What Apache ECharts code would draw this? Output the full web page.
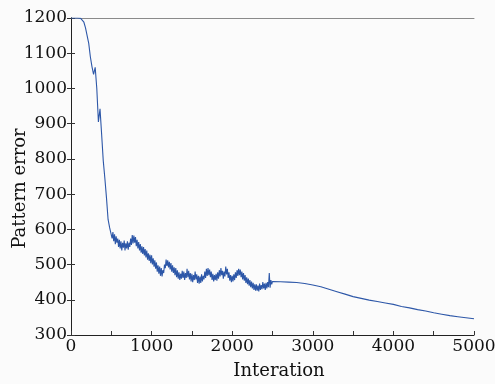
<!DOCTYPE html>
<html>
<head>
<meta charset="utf-8">
<script src="https://cdn.jsdelivr.net/npm/echarts@6/dist/echarts.min.js"></script>
<style>
  html, body { margin: 0; padding: 0; background: #fbfbfb; }
  #main { width: 495px; height: 384px; }
</style>
</head>
<body>
<div id="main"></div>
<script>
// steep descent, a reading every 20 iterations from 0 to 480
var descentStart = 0;
var descentStep = 20;
var descentError = [
  1200, 1200, 1200, 1200, 1200, 1200, 1199, 1196, 1188, 1172,
  1150, 1128, 1090, 1062, 1040, 1060, 1000, 905, 942, 870,
  795, 745, 690, 628, 604
];

// noisy plateau, a reading every 10 iterations from 500 to 2500
var plateauStart = 500;
var plateauStep = 10;
var plateauError = [
  600, 574, 592, 566, 586, 558, 580, 562, 574, 550,
  570, 546, 566, 540, 562, 548, 568, 540, 560, 546,
  566, 542, 562, 550, 574, 556, 584, 560, 582, 562,
  578, 552, 570, 546, 564, 540, 558, 534, 552, 530,
  550, 526, 544, 520, 540, 514, 532, 510, 528, 504,
  526, 500, 518, 494, 512, 488, 506, 480, 498, 474,
  494, 468, 490, 466, 484, 476, 500, 490, 514, 496,
  512, 492, 508, 486, 504, 480, 498, 476, 492, 470,
  490, 464, 484, 460, 478, 456, 474, 460, 482, 462,
  480, 456, 476, 462, 488, 464, 482, 458, 476, 452,
  474, 450, 470, 456, 480, 458, 472, 448, 468, 446,
  466, 448, 472, 452, 468, 458, 480, 462, 488, 468,
  490, 470, 486, 464, 480, 456, 474, 452, 470, 456,
  474, 454, 478, 460, 484, 466, 490, 470, 482, 460,
  480, 466, 494, 472, 488, 462, 478, 454, 470, 450,
  468, 452, 472, 456, 478, 462, 484, 468, 488, 470,
  486, 464, 480, 458, 476, 454, 470, 448, 464, 444,
  460, 440, 456, 436, 452, 432, 448, 428, 444, 426,
  444, 426, 440, 424, 446, 428, 442, 430, 450, 432,
  446, 428, 448, 432, 450, 436, 476, 434, 456, 444,
  452
];

// smooth phase after 2500
var smoothIter = [2600, 2700, 2800, 2900, 3000, 3100, 3200, 3300, 3400, 3500,
  3600, 3700, 3800, 3900, 4000, 4100, 4200, 4300, 4400, 4500,
  4600, 4700, 4800, 4900, 5000];
var smoothError = [451, 450, 449, 446, 442, 437, 430, 423, 416, 409,
  404, 399, 395, 391, 387, 381, 377, 372, 368, 363,
  359, 355, 352, 349, 346];

var yTicks = { min: 300, max: 1200, interval: 100 };
var xTicks = { min: 0, max: 5000, interval: 500 };

var points = [];
descentError.forEach(function (v, i) {
  points.push([descentStart + i * descentStep, v]);
});
plateauError.forEach(function (v, i) {
  points.push([plateauStart + i * plateauStep, v]);
});
smoothIter.forEach(function (it, i) {
  points.push([it, smoothError[i]]);
});

var chart = echarts.init(document.getElementById('main'), null, { renderer: 'canvas' });

var serif = 'DejaVu Serif';
var option = {
  backgroundColor: '#fbfbfb',
  animation: false,
  grid: { left: 71, right: 21, top: 18, bottom: 49, containLabel: false, outerBoundsMode: 'none' },
  xAxis: [{
    type: 'value',
    min: xTicks.min,
    max: xTicks.max,
    interval: xTicks.interval,
    name: 'Interation',
    nameLocation: 'middle',
    nameGap: 27,
    nameMoveOverlap: false,
    nameTextStyle: { fontFamily: serif, fontSize: 18, color: '#111', padding: [0, 0, 0, 13] },
    axisLine: { show: true, lineStyle: { color: '#222', width: 1 } },
    axisTick: { show: true, inside: true, length: 4, lineStyle: { color: '#333' } },
    axisLabel: {
      margin: 3,
      fontFamily: serif, fontSize: 17, color: '#111',
      formatter: function (v) { return v % 1000 === 0 ? String(v) : ''; }
    },
    splitLine: { show: false }
  }, {
    type: 'value',
    position: 'top',
    min: xTicks.min,
    max: xTicks.max,
    axisLine: { show: true, lineStyle: { color: '#8a8a8a', width: 1 } },
    axisTick: { show: false },
    axisLabel: { show: false },
    splitLine: { show: false }
  }],
  yAxis: [{
    type: 'value',
    min: yTicks.min,
    max: yTicks.max,
    interval: yTicks.interval,
    name: 'Pattern error',
    nameLocation: 'middle',
    nameGap: 42,
    nameMoveOverlap: false,
    nameTextStyle: { fontFamily: serif, fontSize: 18, color: '#111', padding: [0, 24, 0, 0] },
    axisLine: { show: true, lineStyle: { color: '#222', width: 1 } },
    axisTick: { show: true, inside: true, length: 4, lineStyle: { color: '#333' } },
    axisLabel: {
      margin: 4, fontFamily: serif, fontSize: 17, color: '#111',
      formatter: function (v) { return String(v); }
    },
    splitLine: { show: false }
  }, {
    type: 'value',
    position: 'right',
    min: yTicks.min,
    max: yTicks.max,
    interval: yTicks.interval,
    axisLine: { show: true, lineStyle: { color: '#222', width: 1 } },
    axisTick: { show: true, inside: true, length: 4, lineStyle: { color: '#333' } },
    axisLabel: { show: false },
    splitLine: { show: false }
  }],
  series: [{
    name: 'error',
    type: 'line',
    xAxisIndex: 0,
    yAxisIndex: 0,
    showSymbol: false,
    symbol: 'none',
    sampling: null,
    lineStyle: { color: '#2d57a8', width: 1.1 },
    data: points
  }]
};

chart.setOption(option);
</script>
</body>
</html>
